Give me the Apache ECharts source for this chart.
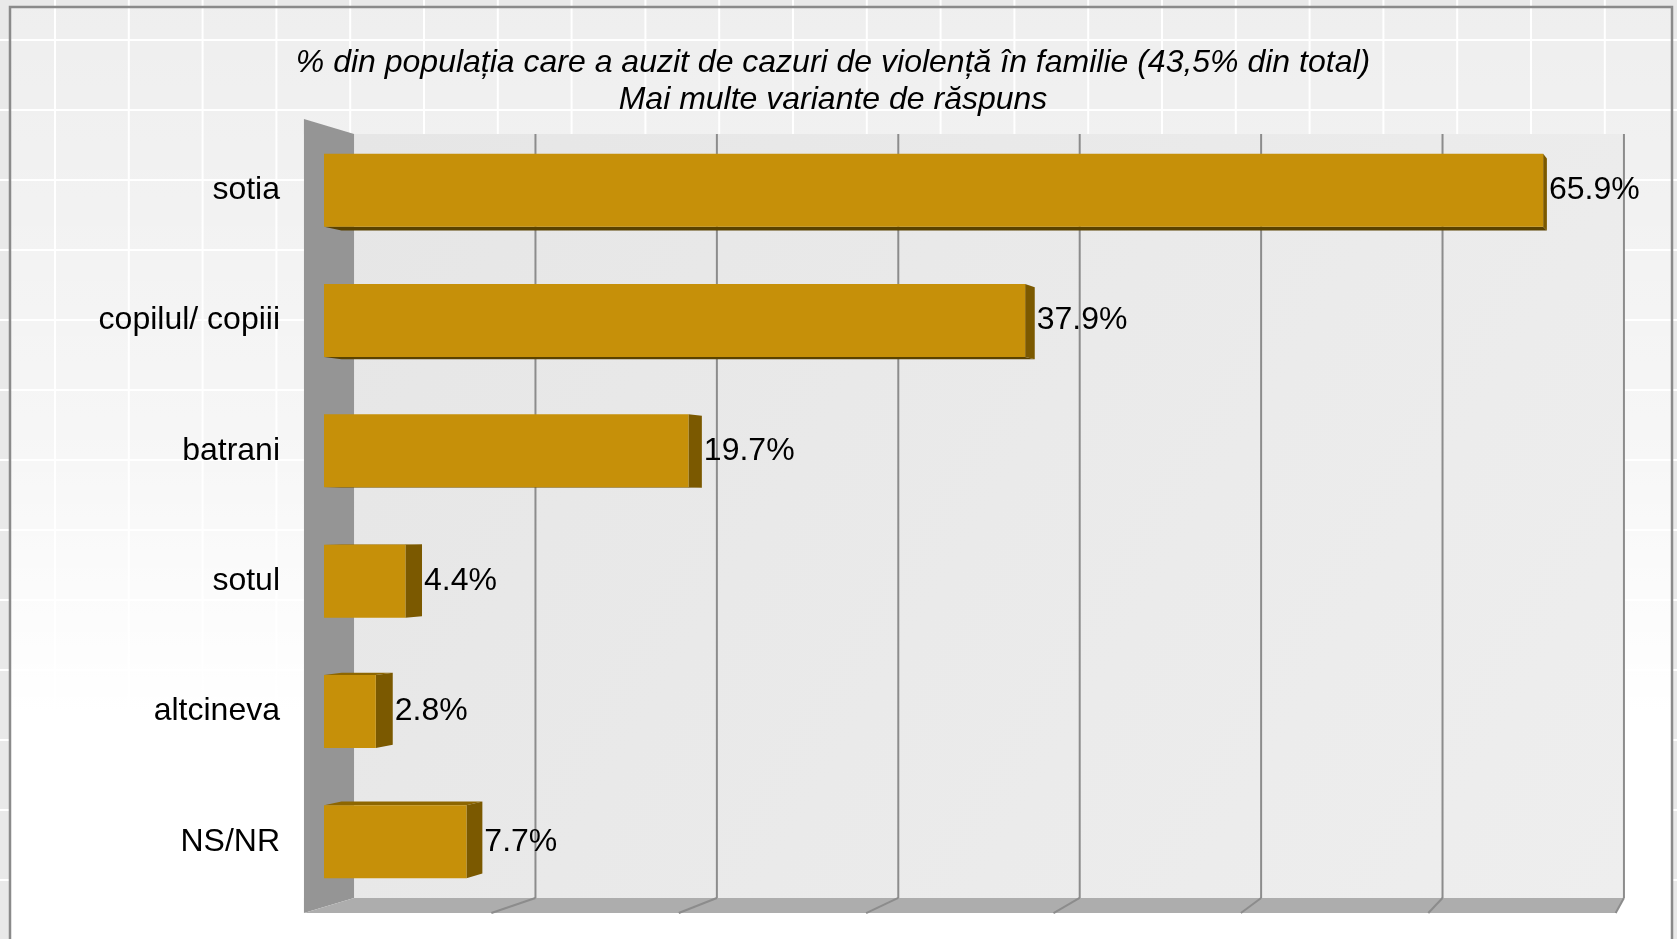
<!DOCTYPE html>
<html>
<head>
    <meta charset="utf-8" />
    <title></title>
    <script src="https://cdn.jsdelivr.net/npm/echarts@6/dist/echarts.min.js"></script>
</head>
<body style="margin:0;">
    <div id="main" style="width: 1677px;height:939px;"></div>
    <script type="text/javascript">
        var categories = ['sotia', 'copilul/ copiii', 'batrani', 'sotul', 'altcineva', 'NS/NR'];
        var values = [65.9, 37.9, 19.7, 4.4, 2.8, 7.7];
        var axisMax = 70;
        var axisStep = 10;
        var titleText = '% din populația care a auzit de cazuri de violență în familie (43,5% din total)\nMai multe variante de răspuns';

        var myChart = echarts.init(document.getElementById('main'));

        // simple fake perspective: d = depth (0 front, 1 back wall)
        var KX = 0.0319, KY = 0.038, BAR_D0 = 0.4, BAR_D1 = 0.75;
        function vp(cs) {
            return [cs.x + cs.width + 255, cs.y + cs.height / 2];
        }
        function scr(cs, X, Y, d) {
            var v = vp(cs);
            return [X + d * KX * (v[0] - X), Y + d * KY * (v[1] - Y)];
        }
        // screen point on the bar plane -> room front plane
        function inv(cs, x, y) {
            var v = vp(cs);
            return [(x - BAR_D0 * KX * v[0]) / (1 - BAR_D0 * KX), (y - BAR_D0 * KY * v[1]) / (1 - BAR_D0 * KY)];
        }

        // background tiles
        var bg = [];
        for (var gx = 55; gx < 1677; gx += 73.8) {
            bg.push({ type: 'line', z: -20, silent: true, shape: { x1: gx, y1: 0, x2: gx, y2: 939 }, style: { stroke: '#ffffff', lineWidth: 2 } });
        }
        for (var gy = 40; gy < 939; gy += 70) {
            bg.push({ type: 'line', z: -20, silent: true, shape: { x1: 0, y1: gy, x2: 1677, y2: gy }, style: { stroke: '#ffffff', lineWidth: 2 } });
        }
        bg.push({
            type: 'rect', z: -19, silent: true,
            shape: { x: 10, y: 7, width: 1662, height: 940 },
            style: {
                fill: new echarts.graphic.LinearGradient(0, 0, 0, 1, [
                    { offset: 0, color: 'rgba(255,255,255,0.25)' },
                    { offset: 0.45, color: 'rgba(255,255,255,0.6)' },
                    { offset: 0.75, color: 'rgba(255,255,255,1)' },
                    { offset: 1, color: 'rgba(255,255,255,1)' }
                ]),
                stroke: '#8a8a8a', lineWidth: 2.5
            }
        });

        var option = {
            backgroundColor: '#e9e9e9',
            textStyle: { fontFamily: 'Liberation Sans, Arial, sans-serif' },
            title: {
                text: titleText,
                left: 828,
                textAlign: 'center',
                top: 40,
                textStyle: { fontSize: 32, fontStyle: 'italic', fontWeight: 'normal', color: '#000', lineHeight: 37, fontFamily: 'Liberation Sans, Arial, sans-serif' }
            },
            graphic: bg,
            grid: { left: 324, right: 58, top: 125, bottom: 32 },
            xAxis: {
                type: 'value', min: 0, max: axisMax, interval: axisStep,
                axisLabel: { show: false }, axisLine: { show: false }, axisTick: { show: false }, splitLine: { show: false }
            },
            yAxis: {
                type: 'category', data: categories, inverse: true,
                axisLine: { show: false }, axisTick: { show: false },
                axisLabel: { fontSize: 32, color: '#000', margin: 44, fontFamily: 'Liberation Sans, Arial, sans-serif' }
            },
            series: [
                {
                    name: 'walls',
                    type: 'custom',
                    z: 1,
                    silent: true,
                    data: [[0, categories[0]]],
                    renderItem: function (params, api) {
                        var cs = params.coordSys;
                        var a = inv(cs, api.coord([0, categories[0]])[0], cs.y);
                        var b = inv(cs, api.coord([axisMax, categories[0]])[0], cs.y + cs.height);
                        var L = a[0], T = a[1], R = b[0], B = b[1];
                        var kids = [];
                        kids.push({ type: 'polygon', shape: { points: [scr(cs, L, T, 1), scr(cs, R, T, 1), scr(cs, R, B, 1), scr(cs, L, B, 1)] },
                            style: { fill: new echarts.graphic.LinearGradient(0, 0, 1, 1, [{ offset: 0, color: '#e6e6e6' }, { offset: 1, color: '#eeeeee' }]) } });
                        kids.push({ type: 'polygon', shape: { points: [[L, T], scr(cs, L, T, 1), scr(cs, L, B, 1), [L, B]] }, style: { fill: '#959595' } });
                        kids.push({ type: 'polygon', shape: { points: [[L, B], scr(cs, L, B, 1), scr(cs, R, B, 1), [R, B]] }, style: { fill: '#adadad' } });
                        for (var v = axisStep; v <= axisMax; v += axisStep) {
                            var X = inv(cs, api.coord([v, categories[0]])[0], cs.y)[0];
                            var p1 = scr(cs, X, T, 1), p2 = scr(cs, X, B, 1);
                            kids.push({ type: 'line', shape: { x1: p1[0], y1: p1[1], x2: p2[0], y2: p2[1] }, style: { stroke: '#8c8c8c', lineWidth: 2 } });
                            kids.push({ type: 'line', shape: { x1: p2[0], y1: p2[1], x2: X, y2: B }, style: { stroke: '#8c8c8c', lineWidth: 2 } });
                        }
                        return { type: 'group', children: kids };
                    }
                },
                {
                    name: 'bars',
                    type: 'custom',
                    z: 3,
                    data: values.map(function (v, i) { return [v, categories[i]]; }),
                    encode: { x: 0, y: 1 },
                    renderItem: function (params, api) {
                        var cs = params.coordSys;
                        var v = api.value(0);
                        var cat = api.value(1);
                        var p0 = api.coord([0, cat]);
                        var p1 = api.coord([v, cat]);
                        var h = api.size([0, 1])[1] * 0.56;
                        var top = p0[1] - h / 2, bot = p0[1] + h / 2;
                        var x0 = p0[0], x1 = p1[0];
                        var fTL = inv(cs, x0, top), fTR = inv(cs, x1, top), fBR = inv(cs, x1, bot), fBL = inv(cs, x0, bot);
                        var bTL = scr(cs, fTL[0], fTL[1], BAR_D1), bTR = scr(cs, fTR[0], fTR[1], BAR_D1);
                        var bBR = scr(cs, fBR[0], fBR[1], BAR_D1), bBL = scr(cs, fBL[0], fBL[1], BAR_D1);
                        var kids = [];
                        if (bTR[1] < top) {
                            kids.push({ type: 'polygon', shape: { points: [[x0, top], bTL, bTR, [x1, top]] }, style: { fill: '#8d6600' } });
                        }
                        if (bBR[1] > bot) {
                            kids.push({ type: 'polygon', shape: { points: [[x0, bot], bBL, bBR, [x1, bot]] }, style: { fill: '#5a4200' } });
                        }
                        kids.push({ type: 'polygon', shape: { points: [[x1, top], bTR, bBR, [x1, bot]] }, style: { fill: '#7b5900' } });
                        kids.push({ type: 'rect', shape: { x: x0, y: top, width: x1 - x0, height: h }, style: { fill: '#c69009' } });
                        kids.push({ type: 'text', x: Math.max(bTR[0], x1) + 2, y: p0[1],
                            style: { text: v.toFixed(1) + '%', fontSize: 32, fill: '#000', verticalAlign: 'middle', align: 'left', fontFamily: 'Liberation Sans, Arial, sans-serif' } });
                        return { type: 'group', children: kids };
                    }
                }
            ]
        };
        myChart.setOption(option);
    </script>
</body>
</html>
